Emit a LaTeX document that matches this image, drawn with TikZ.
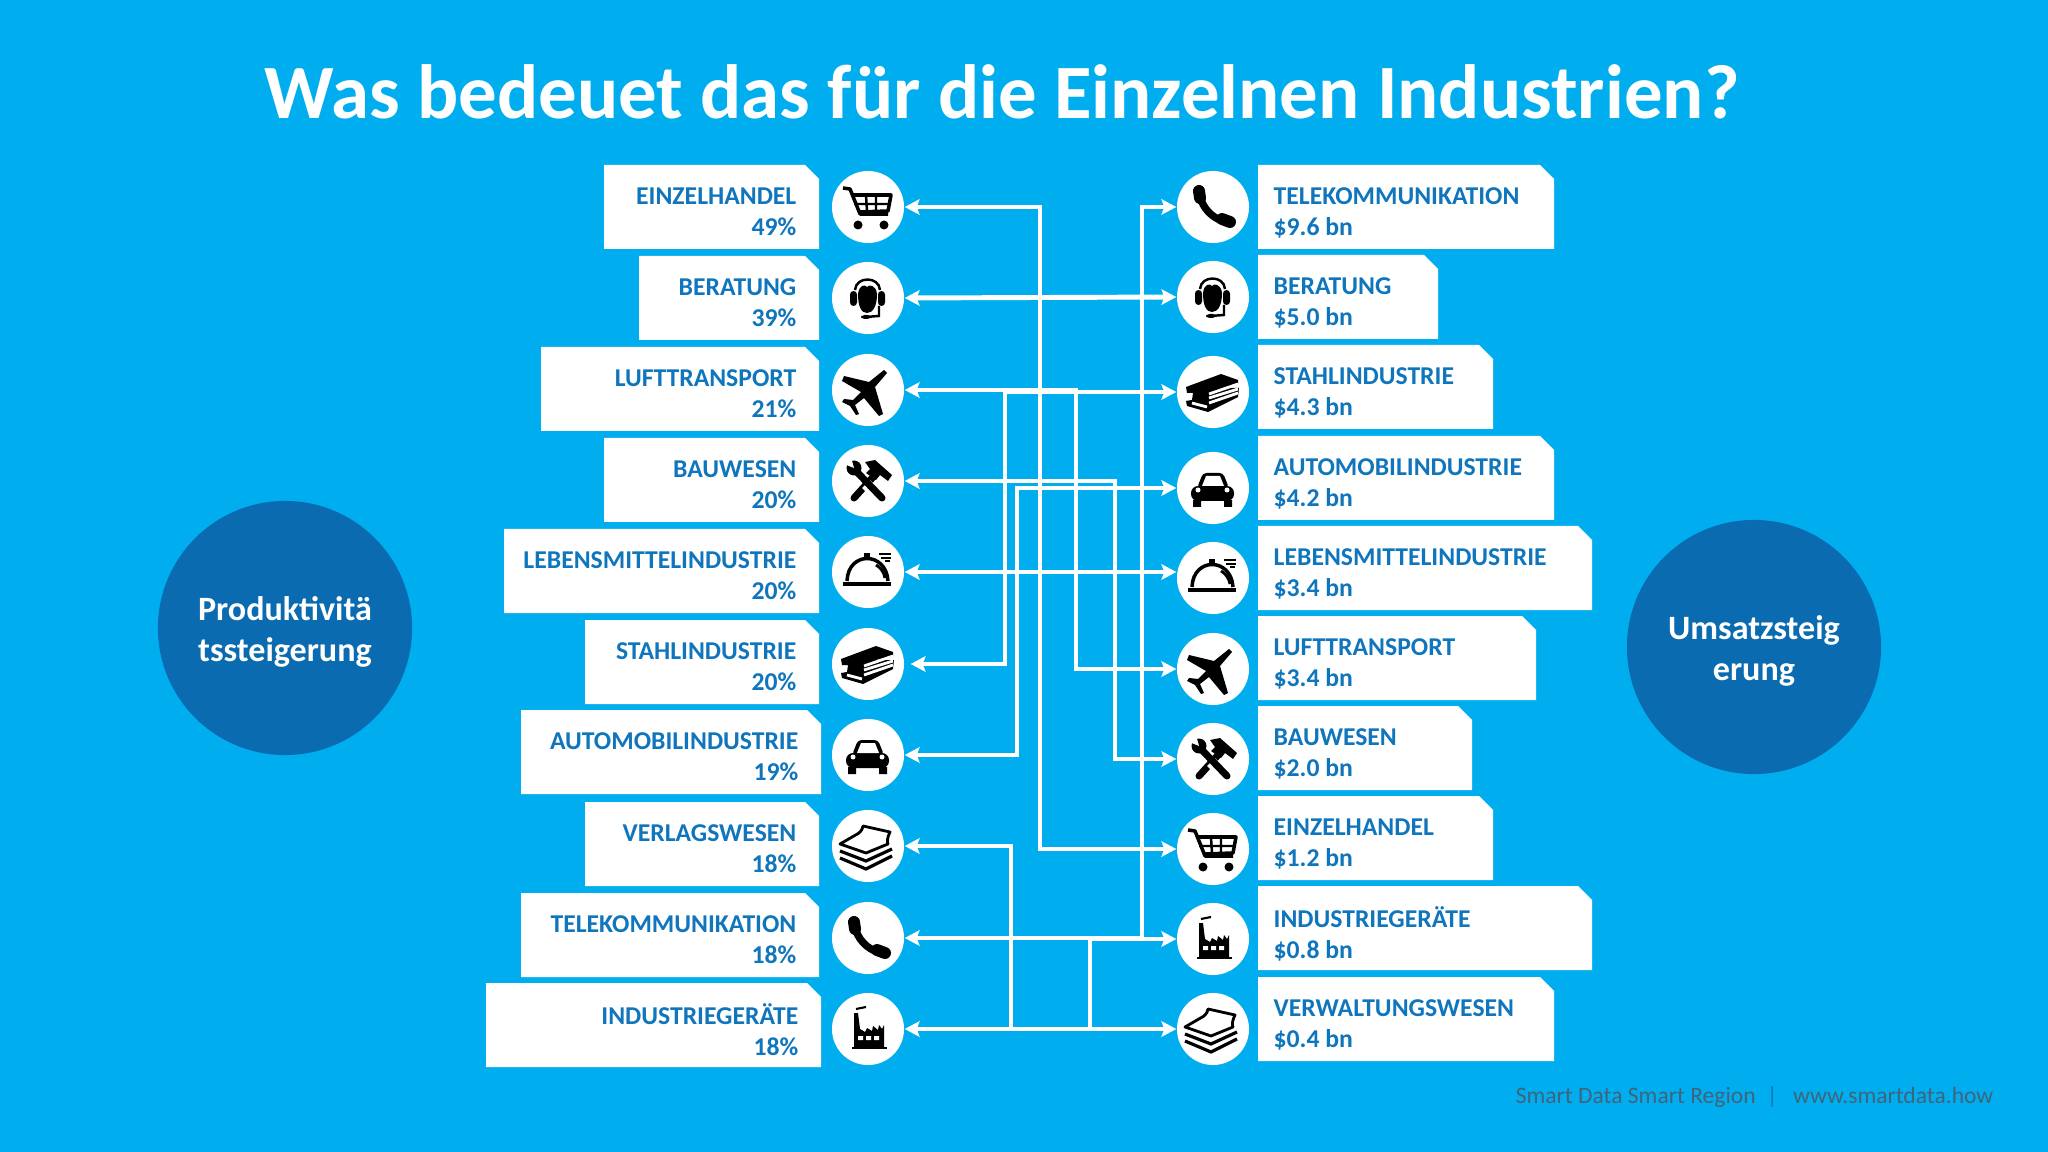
\documentclass[tikz,border=0pt]{standalone}
\usepackage{fontspec}
\setmainfont{Carlito}
\usetikzlibrary{arrows.meta}

\definecolor{skybg}{HTML}{00AEEF}
\definecolor{tagblue}{HTML}{0F75BC}
\definecolor{bigblue}{HTML}{0A6BB0}
\definecolor{footgrey}{HTML}{41637B}

\tikzset{
  conn/.style={draw=white,line width=1.4pt,>={Stealth[length=4.2pt,width=4.4pt,inset=.8pt]}},
  iconring/.style={circle,fill=white,minimum size=.72cm,inner sep=0pt},
  bigring/.style={circle,fill=bigblue,minimum size=2.54cm,inner sep=0pt},
  bigtext/.style={text=white,align=center,inner sep=0pt,font=\fontsize{9.7}{11.6}\selectfont\bfseries},
  tagtext/.style={text=tagblue,inner sep=0pt,font=\fontsize{7.3}{8.8}\selectfont\bfseries},
  iconcart/.pic={
    \draw[line width=1pt,line join=round] (-25,-19) -- (-18,-18) -- (-8,7) -- (20,7);
    \draw[line width=1pt,line join=round] (-16,-12) -- (23,-12) -- (20,4) -- (-10,5);
    \draw[line width=.7pt] (-2,-12) -- (-1,4) (8,-12) -- (8,4) (-14,-3) -- (21,-3);
    \fill (-10,18) circle (4.5) (16,18) circle (4.5);
  },
  iconhead/.pic={
    \fill[rounded corners=1pt] (-18,-7) rectangle (-11,8) (10,-7) rectangle (17,8);
    \draw[line width=.7pt] (-13,-8) .. controls (-12,-22) and (11,-22) .. (12,-8);
    \fill (-10,-4) .. controls (-9,-13) and (-3,-14) .. (-1,-11) .. controls (1,-14) and (8,-13) .. (9,-4)
      .. controls (9,8) and (5,15) .. (-1,15) .. controls (-7,15) and (-10,8) .. (-10,-4) -- cycle;
    \draw[line width=.7pt] (11,8) -- (11,18) -- (-3,19);
    \fill[rounded corners=1pt] (-7,17) rectangle (3,21);
  },
  iconplane/.pic={
    \fill[line join=round] (19,-17) -- (7,-3) -- (15,24) -- (11,26) -- (-4,8) -- (-13,15) -- (-9,24) -- (-12,25)
      -- (-18,16) -- (-26,12) -- (-24,9) -- (-15,10) -- (-7,2) -- (-26,-9) -- (-24,-14) -- (1,-8) -- (16,-20) -- cycle;
  },
  icontools/.pic={
    \draw[line width=2pt,line cap=round] (-14,17) -- (6,-5);
    \fill (-3,-19) -- (7,-21) -- (24,-6) -- (20,0) -- (12,-6) -- (8,-1) -- (-2,-8) -- (2,-12) -- cycle;
    \draw[white,line width=3.2pt] (-2,3) -- (3,8);
    \draw[line width=2pt,line cap=round] (14,17) -- (-12,-10);
    \fill (-14,-13) circle (7.5);
    \fill[white] (-24,-17) -- (-14,-13) -- (-17,-24) -- cycle;
  },
  iconbell/.pic={
    \fill (-25,10) rectangle (23,14);
    \draw[line width=1pt] (-21,9) .. controls (-20,-21) and (18,-21) .. (20,9);
    \fill (-4,-19) rectangle (2,-12);
    \draw[line width=.8pt] (8,-7) .. controls (12,-5) and (16,0) .. (17,6);
    \draw[line width=.7pt] (11,-18) -- (23,-18) (13,-14) -- (23,-14) (17,-11) -- (22,-11);
  },
  iconbooks/.pic={
    \fill[line join=round] (-27,-5) -- (8,-18) -- (25,-12) -- (25,-8) -- (8,-4) -- (26,-4) -- (25,5) -- (-5,20)
      -- (-26,14) -- (-27,9) -- (-21,8) -- (-20,1) -- (-26,1) -- cycle;
    \draw[white,line width=.8pt] (-4,2) -- (25,-8) (-4,6) -- (25,-3) (-6,15) -- (-21,11);
    \draw[white,line width=.8pt] (-4,11) -- (25,1);
  },
  iconcar/.pic={
    \fill[rounded corners=2pt] (-22,-2) rectangle (21,13);
    \fill[rounded corners=1pt] (-16,0) -- (-10,-15) -- (10,-15) -- (16,0) -- cycle;
    \fill[white] (-11,-2) -- (-7,-12) -- (7,-12) -- (11,-2) -- cycle;
    \fill (-20,12) rectangle (-12,19) (11,12) rectangle (19,19);
    \fill[white] (-15,2) circle (2.5) (14,2) circle (2.5);
  },
  iconstack/.pic={
    \draw[line width=.8pt,line join=round,fill=white] (-28,-2) -- (-9,-13) .. controls (-7,-15) and (-5,-17) .. (-5,-20)
      -- (22,-14) .. controls (19,-8) and (19,-4) .. (20,-2) -- (-2,7) -- cycle;
    \draw[line width=.9pt] (-28,5) -- (-2,15) -- (24,3) (-28,12) -- (-2,23) -- (24,10);
  },
  iconphone/.pic={
    \draw[line width=2.1pt] (-13,-12) .. controls (-11,1) and (-1,11) .. (12,15);
    \draw[line width=3.4pt,line cap=round] (-14,-16) -- (-13,-9);
    \draw[line width=3.4pt,line cap=round] (9,12) -- (17,15);
  },
  iconplant/.pic={
    \fill (-16,18) rectangle (19,20);
    \fill (-14,18) -- (-14,-16) -- (-10,-16) -- (-8,0) -- (-3,3) -- (-1,-1) -- (4,2) -- (5,-3) -- (10,1) -- (11,-4)
      -- (14,0) -- (16,-4) -- (16,18) -- cycle;
    \fill[white] (-10,7) rectangle (-5,11) (-2,7) rectangle (3,11) (6,7) rectangle (11,11);
    \draw[line width=.6pt] (-12,-20) -- (-2,-22);
  }
}

% left tag: [box right], name, box left, box top, text, value, ring y, icon
\newcommand{\lefttag}[8][819]{
  \fill[white] (#3,#4) -- (#1-14,#4) -- (#1,#4+14) -- (#1,#4+84) -- (#3,#4+84) -- cycle;
  \node[tagtext,anchor=east,align=right] (t#2) at (#1-22,#4+47) {#5\\#6};
  \node[iconring] (#2) at (868,#7) {};
  \pic at (#2) {#8};
}
% right tag: name, box right, box top, text, value, ring y, icon
\newcommand{\righttag}[7]{
  \fill[white] (1258,#3) -- (#2-14,#3) -- (#2,#3+14) -- (#2,#3+84) -- (1258,#3+84) -- cycle;
  \node[tagtext,anchor=west,align=left] (t#1) at (1273,#3+48) {#4\\#5};
  \node[iconring] (#1) at (1213,#6) {};
  \pic at (#1) {#7};
}

\begin{document}
\begin{tikzpicture}[x=.01cm,y=-.01cm]
  \useasboundingbox (0,0) rectangle (2048,1152);
  \fill[skybg] (0,0) rectangle (2048,1152);

  \node[text=white,font=\fontsize{21.85}{21.85}\selectfont\bfseries] (title) at (1002,92) {Was bedeuet das für die Einzelnen Industrien?};
  \node[bigring] (prod) at (285,628) {};
  \node[bigtext] (prodtext) at (285,632) {Produktivitä\\tssteigerung};
  \node[bigring] (umsatz) at (1754,647) {};
  \node[bigtext] (umsatztext) at (1754,651) {Umsatzsteig\\erung};

  \lefttag{lEin}{604}{165}{EINZELHANDEL}{49\%}{207}{iconcart}
  \lefttag{lBer}{639}{256}{BERATUNG}{39\%}{298}{iconhead}
  \lefttag{lLuf}{541}{347}{LUFTTRANSPORT}{21\%}{390}{iconplane}
  \lefttag{lBau}{604}{438}{BAUWESEN}{20\%}{481}{icontools}
  \lefttag{lLeb}{504}{529}{LEBENSMITTELINDUSTRIE}{20\%}{572}{iconbell}
  \lefttag{lSta}{585}{620}{STAHLINDUSTRIE}{20\%}{664}{iconbooks}
  \lefttag[821]{lAut}{521}{710}{AUTOMOBILINDUSTRIE}{19\%}{755}{iconcar}
  \lefttag{lVer}{585}{802}{VERLAGSWESEN}{18\%}{846}{iconstack}
  \lefttag{lTel}{521}{893}{TELEKOMMUNIKATION}{18\%}{938}{iconphone}
  \lefttag[821]{lInd}{486}{983}{INDUSTRIEGERÄTE}{18\%}{1029}{iconplant}

  \righttag{rTel}{1554}{165}{TELEKOMMUNIKATION}{\$9.6 bn}{207}{iconphone}
  \righttag{rBer}{1438}{255}{BERATUNG}{\$5.0 bn}{297}{iconhead}
  \righttag{rSta}{1493}{345}{STAHLINDUSTRIE}{\$4.3 bn}{392}{iconbooks}
  \righttag{rAut}{1554}{436}{AUTOMOBILINDUSTRIE}{\$4.2 bn}{488}{iconcar}
  \righttag{rLeb}{1592}{526}{LEBENSMITTELINDUSTRIE}{\$3.4 bn}{578}{iconbell}
  \righttag{rLuf}{1536}{616}{LUFTTRANSPORT}{\$3.4 bn}{669}{iconplane}
  \righttag{rBau}{1472}{706}{BAUWESEN}{\$2.0 bn}{759}{icontools}
  \righttag{rEin}{1493}{796}{EINZELHANDEL}{\$1.2 bn}{849}{iconcart}
  \righttag{rInd}{1592}{886}{INDUSTRIEGERÄTE}{\$0.8 bn}{939}{iconplant}
  \righttag{rVer}{1554}{977}{VERWALTUNGSWESEN}{\$0.4 bn}{1029}{iconstack}

  % vertical runs
  \coordinate (busStahl) at (1005,0);
  \coordinate (busVerl) at (1011,0);
  \coordinate (busAuto) at (1017,0);
  \coordinate (busEin) at (1040,0);
  \coordinate (busLuf) at (1076,0);
  \coordinate (busInd) at (1090,0);
  \coordinate (busBau) at (1115,0);
  \coordinate (busTel) at (1142,0);

  \draw[conn,<->] (lEin.east) -- (lEin -| busEin) -- (rEin -| busEin) -- (rEin.west);
  \draw[conn,<->] (lBer.east) -- (rBer.west);
  \draw[conn,<->] (lLuf.east) -- (lLuf -| busLuf) -- (rLuf -| busLuf) -- (rLuf.west);
  \draw[conn,<->,shorten <=1.7pt] (lSta.east) -- (lSta -| busStahl) -- (rSta -| busStahl) -- (rSta.west);
  \draw[conn,<->] (lBau.east) -- (lBau -| busBau) -- (rBau -| busBau) -- (rBau.west);
  \draw[conn,<->] (lAut.east) -- (lAut -| busAuto) -- (rAut -| busAuto) -- (rAut.west);
  \draw[conn,<->] (lLeb.east) -- (rLeb.west |- lLeb);
  \draw[conn,<->] (lVer.east) -- (lVer -| busVerl) -- (rVer -| busVerl) -- (rVer.west);
  \draw[conn,<->] (lTel.east) -- (lTel -| busTel) -- (rTel -| busTel) -- (rTel.west);
  \draw[conn,<->] (lInd.east) -- (lInd -| busInd) -- (rInd -| busInd) -- (rInd.west);

  \node[text=footgrey,font=\fontsize{6.7}{6.7}\selectfont,anchor=east,inner sep=0pt] (foot) at (1994,1097) {Smart Data Smart Region\hspace{.48em}{\color{tagblue}|}\hspace{.65em}www.smartdata.how};
\end{tikzpicture}
\end{document}
